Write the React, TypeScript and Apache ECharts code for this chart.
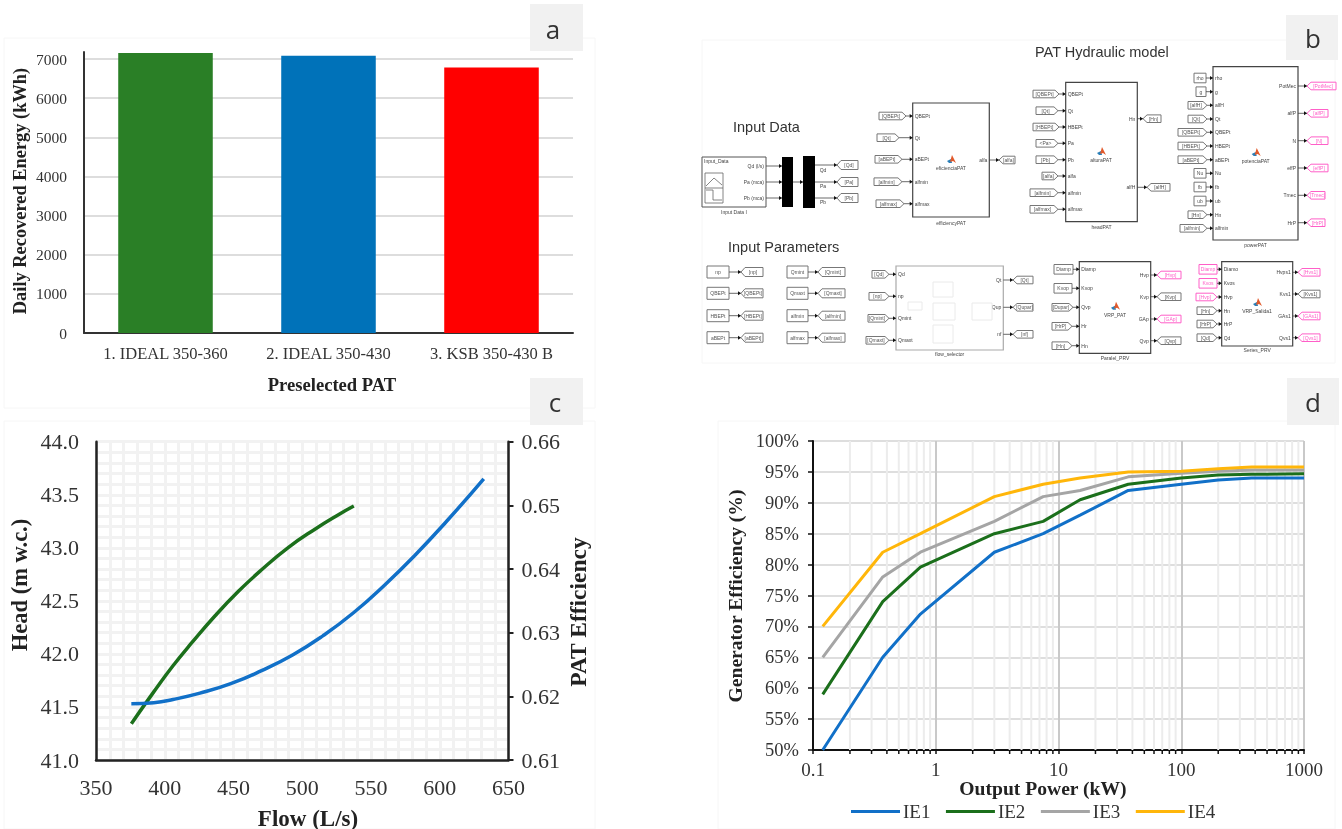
import React, { useEffect, useRef } from "react";
import * as echarts from "echarts";

// ---------- panel a ----------
const patNames = ["1. IDEAL 350-360", "2. IDEAL 350-430", "3. KSB 350-430 B"];
const patEnergy = [7155, 7085, 6785];
const patColors = ["#2A7F26", "#0072B9", "#FF0000"];

// ---------- panel c ----------
const headFlow = [375.7, 392, 406, 425.6, 448, 470, 493, 515, 537.5, 560, 582, 605, 632];
const headValue = [41.53, 41.54, 41.57, 41.63, 41.72, 41.84, 41.99, 42.17, 42.39, 42.65, 42.93, 43.25, 43.65];
const effFlow = [375.7, 392, 406, 420, 436.8, 453.6, 470, 490, 509.5, 526, 537.5];
const effValue = [0.6157, 0.6207, 0.6248, 0.6285, 0.6327, 0.6365, 0.6398, 0.6434, 0.6463, 0.6485, 0.6499];

// ---------- panel d ----------
const powerKw = [0.12, 0.37, 0.75, 3, 7.5, 15, 37, 100, 200, 375, 1000];
const ie1 = [50, 65, 72, 82, 85, 88, 92, 93, 93.7, 94, 94];
const ie2 = [59, 74, 79.6, 85, 87, 90.5, 93, 94, 94.5, 94.6, 94.7];
const ie3 = [65, 78, 82, 87, 91, 92, 94.2, 94.8, 95.1, 95.3, 95.3];
const ie4 = [70, 82, 85, 91, 93, 94, 95, 95.1, 95.5, 95.8, 95.8];
const minorKw = [
  0.2, 0.3, 0.4, 0.5, 0.6, 0.7, 0.8, 0.9, 2, 3, 4, 5, 6, 7, 8, 9, 20, 30, 40, 50, 60, 70, 80, 90,
  200, 300, 400, 500, 600, 700, 800, 900,
];

const SERIF = "'Liberation Serif', serif";
const SANS = "'Liberation Sans', sans-serif";
const PINK = "#ff5fc8";
const GREY = "#777777";
const DARK = "#3a3a3a";

const els: any[] = [];
const lineEl = (x1: number, y1: number, x2: number, y2: number, stroke = "#333", lineWidth = 1) =>
  els.push({ type: "line", shape: { x1, y1, x2, y2 }, style: { stroke, lineWidth } });
const textEl = (x: number, y: number, text: string, font: string, fill = DARK, align = "center", rotation = 0) =>
  els.push({
    type: "text",
    x,
    y,
    rotation,
    style: { text, font, fill, textAlign: align, textVerticalAlign: "middle" },
  });
const rectEl = (x: number, y: number, w: number, h: number, fill: string, stroke = "none", lineWidth = 1) =>
  els.push({ type: "rect", shape: { x, y, width: w, height: h }, style: { fill, stroke, lineWidth } });
const polyEl = (points: number[][], fill: string, stroke = "none", lineWidth = 1) =>
  els.push({ type: "polygon", shape: { points }, style: { fill, stroke, lineWidth } });
const tiny = `5px ${SANS}`;
const arrowHead = (x: number, y: number) =>
  polyEl([[x - 3, y - 2], [x, y], [x - 3, y + 2]], "#111");

// input tag: [port label, tag label, left, right, kind, pink]
type Port = [string, string, number, number, "from" | "const", boolean?];

const drawIn = (blockX: number, y: number, p: Port) => {
  const [port, label, l, r, kind, pink] = p;
  const c = pink ? PINK : GREY;
  const h = 3.8;
  if (kind === "const") {
    rectEl(l, y - h - 1, r - l, 2 * h + 2, "#fff", c, 1);
  } else {
    polyEl([[l, y - h], [r - 4, y - h], [r, y], [r - 4, y + h], [l, y + h]], "#fff", c, 1);
  }
  textEl(kind === "const" ? (l + r) / 2 : (l + r - 3) / 2, y, label, tiny, pink ? PINK : "#555");
  lineEl(r, y, blockX, y, "#444", 0.8);
  arrowHead(blockX, y);
  textEl(blockX + 2, y, port, tiny, "#444", "left");
};
const drawOut = (blockX: number, y: number, port: string, label: string, l: number, r: number, pink?: boolean) => {
  const c = pink ? PINK : GREY;
  const h = 3.8;
  polyEl([[l, y], [l + 4, y - h], [r, y - h], [r, y + h], [l + 4, y + h]], "#fff", c, 1);
  textEl((l + r + 3) / 2, y, label, tiny, pink ? PINK : "#555");
  lineEl(blockX, y, l, y, "#444", 0.8);
  arrowHead(l, y);
  textEl(blockX - 2, y, port, tiny, "#444", "right");
};
const matlabIcon = (cx: number, cy: number) => {
  polyEl([[cx - 4, cy + 1], [cx, cy - 1], [cx + 1, cy + 3], [cx - 2, cy + 3]], "#2a7fb8");
  polyEl([[cx - 1, cy + 2], [cx + 1, cy - 5], [cx + 5, cy + 3], [cx + 2, cy + 1]], "#e2592a");
};
const drawBlock = (
  x0: number, y0: number, x1: number, y1: number, name: string, nameY: number,
  inner: string | null, icx: number, icy: number,
  inY: number[], inputs: Port[],
  outY: number[], outs: [string, string, number, number, boolean?][],
  stroke = "#444",
) => {
  rectEl(x0, y0, x1 - x0, y1 - y0, "#fff", stroke, 1.2);
  inputs.forEach((p, i) => drawIn(x0, inY[i], p));
  outs.forEach((o, i) => drawOut(x1, outY[i], o[0], o[1], o[2], o[3], o[4]));
  textEl((x0 + x1) / 2, nameY, name, tiny, "#444");
  if (inner) {
    matlabIcon(icx, icy);
    textEl(icx, icy + 8, inner, tiny, "#444");
  }
};

// faint panel frames
rectEl(4, 38, 591, 370, "none", "#f6f6f6", 1);
rectEl(702, 40, 633, 323, "none", "#f6f6f6", 1);
rectEl(4, 421, 591, 408, "none", "#f6f6f6", 1);
rectEl(718, 421, 617, 408, "none", "#f6f6f6", 1);
// corner tags
rectEl(530, 4, 53, 47, "#f1f1f1");
rectEl(1286, 15, 52, 45, "#f1f1f1");
rectEl(530, 378, 53, 47, "#f1f1f1");
rectEl(1287, 378, 52, 47, "#f1f1f1");
([["a", 553, 29], ["b", 1313, 38], ["c", 555, 402], ["d", 1313, 402]] as any[]).forEach(([t, x, y]) =>
  textEl(x, y, t, `26px 'Open Sans', sans-serif`, "#333"),
);

// axis titles
const R = Math.PI / 2;
textEl(20, 191, "Daily Recovered Energy (kWh)", `bold 18.4px ${SERIF}`, "#222", "center", R);
textEl(332, 384, "Preselected PAT", `bold 18.6px ${SERIF}`, "#222");
textEl(19, 585, "Head (m w.c.)", `bold 22.5px ${SERIF}`, "#222", "center", R);
textEl(578, 612, "PAT Efficiency", `bold 23.5px ${SERIF}`, "#222", "center", R);
textEl(308, 818, "Flow (L/s)", `bold 23px ${SERIF}`, "#222");
textEl(735, 596, "Generator Efficiency (%)", `bold 19.6px ${SERIF}`, "#222", "center", R);
textEl(1043, 788, "Output Power (kW)", `bold 19.6px ${SERIF}`, "#222");

// diagram titles
textEl(733, 127, "Input Data", `14.5px ${SANS}`, "#333", "left");
textEl(728, 247, "Input Parameters", `14.5px ${SANS}`, "#333", "left");
textEl(1035, 52, "PAT Hydraulic model", `14.5px ${SANS}`, "#333", "left");

// input data source and buses
rectEl(702, 157, 64, 50, "#fff", "#555", 1);
textEl(704, 161, "Input_Data", tiny, "#444", "left");
rectEl(705, 173, 18, 30, "#fff", "#666", 0.8);
els.push({ type: "polyline", shape: { points: [[706, 186], [714, 178], [722, 185]] }, style: { stroke: "#666", lineWidth: 0.8, fill: "none" } });
els.push({ type: "polyline", shape: { points: [[706, 190], [713, 190], [713, 200], [722, 200]] }, style: { stroke: "#666", lineWidth: 0.8, fill: "none" } });
lineEl(705, 188, 723, 188, "#666", 0.8);
textEl(734, 212, "Input Data I", tiny, "#444");
rectEl(782, 157, 11, 50, "#000");
rectEl(803, 156, 12, 52, "#000");
lineEl(793, 182, 803, 182, "#444", 0.8);
arrowHead(803, 182);
[["Qd (l/s)", 166], ["Pa (mca)", 182], ["Pb (mca)", 198]].forEach(([t, y]: any) => {
  textEl(764, y, t, tiny, "#444", "right");
  lineEl(766, y, 782, y, "#444", 0.8);
  arrowHead(782, y);
});
[["Qd", "[Qd]", 165, 170], ["Pa", "[Pa]", 182, 186], ["Pb", "[Pb]", 198, 202]].forEach(([p, t, y, ly]: any) => {
  lineEl(815, y, 837, y, "#444", 0.8);
  arrowHead(837, y);
  textEl(823, ly, p, tiny, "#444");
  polyEl([[837, y], [841, y - 4.5], [858, y - 4.5], [858, y + 4.5], [841, y + 4.5]], "#fff", GREY, 1);
  textEl(849, y, t, tiny, "#555");
});

// efficiencyPAT
drawBlock(912.7, 103, 989.3, 217, "efficiencyPAT", 223, "eficienciaPAT", 951, 160,
  [116, 137.7, 159.3, 181.7, 203.7],
  [
    ["QBEPt", "[QBEPt]", 879, 906, "from"],
    ["Qt", "[Qt]", 877, 899, "from"],
    ["aBEPt", "[aBEPt]", 875, 902, "from"],
    ["alfmin", "[alfmin]", 874, 902, "from"],
    ["alfmax", "[alfmax]", 876, 904, "from"],
  ],
  [160], [["alfa", "[alfa]", 999, 1015]]);

// headPAT
drawBlock(1065.7, 82.3, 1137.3, 221.7, "headPAT", 226.7, "alturaPAT", 1101, 152,
  [94, 110.7, 127, 143.3, 159.7, 176, 192.7, 209.3],
  [
    ["QBEPt", "[QBEPt]", 1033, 1059, "from"],
    ["Qt", "[Qt]", 1036, 1058, "from"],
    ["HBEPt", "[HBEPt]", 1033, 1059, "from"],
    ["Pa", "<Pa>", 1036, 1058, "from"],
    ["Pb", "[Pb]", 1036, 1058, "from"],
    ["alfa", "[alfa]", 1042, 1058, "from"],
    ["alfmin", "[alfmin]", 1030, 1058, "from"],
    ["alfmax", "[alfmax]", 1030, 1058, "from"],
  ],
  [118.7, 187.3], [["Hn", "[Hn]", 1143, 1161], ["alfH", "[alfH]", 1147, 1170]]);

// powerPAT
drawBlock(1213, 66.7, 1298, 240, "powerPAT", 245, "potenciaPAT", 1255.7, 153,
  [78, 91.7, 105.3, 119, 132.3, 146, 159.7, 173.3, 187, 201, 214.7, 228.3],
  [
    ["rho", "rho", 1194, 1206, "const"],
    ["g", "g", 1196, 1206, "const"],
    ["alfH", "[alfH]", 1188, 1207, "from"],
    ["Qt", "[Qt]", 1188, 1207, "from"],
    ["QBEPt", "[QBEPt]", 1178, 1207, "from"],
    ["HBEPt", "[HBEPt]", 1178, 1207, "from"],
    ["aBEPt", "[aBEPt]", 1178, 1207, "from"],
    ["Nu", "Nu", 1194, 1206, "const"],
    ["fb", "fb", 1194, 1206, "const"],
    ["ub", "ub", 1194, 1206, "const"],
    ["Hn", "[Hn]", 1188, 1207, "from"],
    ["alfmin", "[alfmin]", 1180, 1207, "from"],
  ],
  [86, 113.3, 140.7, 168, 195.3, 222.7],
  [
    ["PotMec", "[PotMec]", 1307, 1336, true],
    ["alfP", "[alfP]", 1307, 1328, true],
    ["N", "[N]", 1307, 1328, true],
    ["effP", "[effP]", 1307, 1328, true],
    ["Tmec", "[Tmec]", 1307, 1325, true],
    ["HrP", "[HrP]", 1307, 1325, true],
  ]);

// constants
const rowY = [272, 293.3, 315.7, 337.7];
["np", "QBEPt", "HBEPt", "aBEPt"].forEach((t, i) => {
  const y = rowY[i];
  rectEl(707, y - 6, 22, 12, "#fff", GREY, 1);
  textEl(718, y, t, tiny, "#555");
  lineEl(729, y, 741, y, "#444", 0.8);
  arrowHead(741, y);
  polyEl([[741, y], [745, y - 4.5], [763, y - 4.5], [763, y + 4.5], [745, y + 4.5]], "#fff", GREY, 1);
  textEl(753, y, `[${t}]`, tiny, "#555");
});
["Qmint", "Qmaxt", "alfmin", "alfmax"].forEach((t, i) => {
  const y = rowY[i];
  rectEl(787, y - 6, 21, 12, "#fff", GREY, 1);
  textEl(797.5, y, t, tiny, "#555");
  lineEl(808, y, 818, y, "#444", 0.8);
  arrowHead(818, y);
  polyEl([[818, y], [822, y - 4.5], [845, y - 4.5], [845, y + 4.5], [822, y + 4.5]], "#fff", GREY, 1);
  textEl(833, y, `[${t}]`, tiny, "#555");
});

// flow selector
drawBlock(896, 266, 1003.3, 350, "flow_selector", 354, null, 0, 0,
  [274.3, 296.3, 318.3, 340.3],
  [
    ["Qd", "[Qd]", 872, 889, "from"],
    ["np", "[np]", 869, 889, "from"],
    ["Qmint", "[Qmint]", 868, 889, "from"],
    ["Qmaxt", "[Qmaxt]", 866, 889, "from"],
  ],
  [280, 307.3, 334.3],
  [["Qt", "[Qt]", 1013, 1033], ["Qup", "[Qupar]", 1013, 1033], ["nf", "[nf]", 1013, 1033]],
  "#aaaaaa");
[[933, 282, 20, 15], [933, 303, 22, 17], [933, 325, 20, 18], [908, 302, 14, 8], [972, 303, 20, 17]].forEach(([x, y, w, h]) =>
  rectEl(x, y, w, h, "#fff", "#eaeaea", 1),
);

// Paralel_PRV
drawBlock(1079.3, 261.7, 1150.7, 353.3, "Paralel_PRV", 358, "VRP_PAT", 1115, 306.7,
  [269.3, 288.3, 307.3, 326.3, 345.7],
  [
    ["Diamp", "Diamp", 1054, 1073, "const"],
    ["Kvop", "Kvop", 1054, 1072, "const"],
    ["Qvp", "[Dupar]", 1052, 1073, "from"],
    ["Hr", "[HrP]", 1052, 1072, "from"],
    ["Hn", "[Hn]", 1052, 1072, "from"],
  ],
  [275, 296.7, 319, 340.7],
  [
    ["Hvp", "[Hvp]", 1157, 1181, true],
    ["Kvp", "[Kvp]", 1157, 1181],
    ["GAp", "[GAp]", 1157, 1181, true],
    ["Qvp", "[Qvp]", 1157, 1181],
  ]);

// Series_PRV
drawBlock(1221.7, 261.7, 1292.7, 346, "Series_PRV", 350, "VRP_Salida1", 1257, 303,
  [269.3, 283.3, 297, 310.7, 324, 337.7],
  [
    ["Diamo", "Diamp", 1199, 1217, "const", true],
    ["Kvos", "Kvos", 1199, 1217, "const", true],
    ["Hvp", "[Hvp]", 1196, 1217, "from", true],
    ["Hn", "[Hn]", 1197, 1217, "from"],
    ["HrP", "[HrP]", 1197, 1217, "from"],
    ["Qd", "[Qd]", 1197, 1217, "from"],
  ],
  [272.3, 294, 316, 337.7],
  [
    ["Hvps1", "[Hvs1]", 1298, 1320, true],
    ["Kvs1", "[Kvs1]", 1298, 1320],
    ["GAs1", "[GAs1]", 1298, 1320, true],
    ["Qvs1", "[Qvs1]", 1298, 1320, true],
  ]);

const zip = (a: number[], b: number[]) => a.map((v, i) => [v, b[i]]);
const tickLabel = (size: number, margin: number, extra: any = {}) => ({
  fontFamily: SERIF,
  fontSize: size,
  color: "#333",
  margin,
  ...extra,
});
const ieSeries = (name: string, values: number[], color: string) => ({
  name,
  type: "line",
  xAxisIndex: 2,
  yAxisIndex: 3,
  data: zip(powerKw, values),
  symbol: "none",
  lineStyle: { color, width: 3 },
  itemStyle: { color },
  z: 5,
});

const option: any = {
  animation: false,
  backgroundColor: "#fff",
  legend: {
    data: ["IE1", "IE2", "IE3", "IE4"],
    left: 846,
    top: 797,
    itemWidth: 49,
    itemHeight: 3,
    itemGap: 15.5,
    icon: "rect",
    textStyle: { fontFamily: SERIF, fontSize: 19, color: "#333", padding: [0, 0, 0, -2] },
  },
  grid: [
    { left: 84, width: 489, top: 52, height: 281 },
    { left: 96, width: 412.5, top: 441.7, height: 318.3 },
    { left: 813, width: 491, top: 441, height: 309 },
  ],
  xAxis: [
    {
      type: "category",
      gridIndex: 0,
      data: patNames,
      axisLine: { lineStyle: { color: "#333", width: 2 } },
      axisTick: { show: false },
      axisLabel: tickLabel(16.5, 12),
    },
    {
      type: "value",
      gridIndex: 1,
      min: 350,
      max: 650,
      interval: 50,
      axisLine: { lineStyle: { color: "#222", width: 2.5 } },
      axisTick: { show: false },
      axisLabel: tickLabel(22, 16),
      splitLine: { show: true, lineStyle: { color: "#f2f2f2", width: 3 } },
      minorTick: { show: false, splitNumber: 5 },
      minorSplitLine: { show: true, lineStyle: { color: "#f2f2f2", width: 3 } },
    },
    {
      type: "log",
      gridIndex: 2,
      logBase: 10,
      min: 0.1,
      max: 1000,
      axisLine: { onZero: false, lineStyle: { color: "#111", width: 2 } },
      axisTick: { show: true, length: 4, lineStyle: { color: "#111", width: 1.5 } },
      axisLabel: tickLabel(19, 10, { formatter: (v: number) => String(v) }),
      splitLine: { show: true, lineStyle: { color: "#c9c9c9", width: 2 } },
      minorTick: { show: false },
      minorSplitLine: { show: false },
    },
  ],
  yAxis: [
    {
      type: "value",
      gridIndex: 0,
      min: 0,
      max: 7180,
      interval: 1000,
      axisLine: { show: true, lineStyle: { color: "#333", width: 2 } },
      axisTick: { show: false },
      axisLabel: tickLabel(15.5, 17, { showMaxLabel: false, formatter: (v: number) => String(v) }),
      splitLine: { show: true, showMaxLine: false, lineStyle: { color: "#dddddd", width: 2 } },
    },
    {
      type: "value",
      gridIndex: 1,
      min: 41,
      max: 44,
      interval: 0.5,
      axisLine: { show: true, lineStyle: { color: "#222", width: 2.5 } },
      axisTick: { show: false },
      axisLabel: tickLabel(22, 17, { formatter: (v: number) => v.toFixed(1) }),
      splitLine: { show: true, lineStyle: { color: "#f2f2f2", width: 3 } },
      minorTick: { show: false, splitNumber: 5 },
      minorSplitLine: { show: true, lineStyle: { color: "#f2f2f2", width: 3 } },
    },
    {
      type: "value",
      gridIndex: 1,
      position: "right",
      min: 0.61,
      max: 0.66,
      interval: 0.01,
      axisLine: { show: true, lineStyle: { color: "#222", width: 2.5 } },
      axisTick: { show: true, length: 5, lineStyle: { color: "#222", width: 2 } },
      axisLabel: tickLabel(22, 13, { formatter: (v: number) => v.toFixed(2) }),
      splitLine: { show: false },
    },
    {
      type: "value",
      gridIndex: 2,
      min: 50,
      max: 100,
      interval: 5,
      axisLine: { show: true, lineStyle: { color: "#111", width: 2 } },
      axisTick: { show: true, length: 5, lineStyle: { color: "#111", width: 1.5 } },
      axisLabel: tickLabel(18.5, 14, { formatter: (v: number) => `${v}%` }),
      splitLine: { show: true, lineStyle: { color: "#dedede", width: 2 } },
    },
  ],
  series: [
    {
      type: "bar",
      xAxisIndex: 0,
      yAxisIndex: 0,
      barWidth: "58%",
      data: patEnergy.map((value, i) => ({ value, itemStyle: { color: patColors[i] } })),
      z: 3,
    },
    {
      name: "Head",
      type: "line",
      xAxisIndex: 1,
      yAxisIndex: 1,
      data: zip(headFlow, headValue),
      smooth: true,
      symbol: "none",
      lineStyle: { color: "#1170C8", width: 3.5 },
      z: 5,
    },
    {
      name: "Efficiency",
      type: "line",
      xAxisIndex: 1,
      yAxisIndex: 2,
      data: zip(effFlow, effValue),
      smooth: true,
      symbol: "none",
      lineStyle: { color: "#1B6F1B", width: 3.5 },
      z: 4,
    },
    {
      type: "custom",
      xAxisIndex: 2,
      yAxisIndex: 3,
      clip: false,
      silent: true,
      z: 1,
      data: minorKw.map((v) => [v, 50]),
      encode: { x: 0, y: 1 },
      renderItem: (_p: any, api: any) => {
        const a = api.coord([api.value(0), 50]);
        const b = api.coord([api.value(0), 100]);
        return {
          type: "group",
          children: [
            { type: "line", shape: { x1: a[0], y1: a[1], x2: b[0], y2: b[1] }, style: { stroke: "#ececec", lineWidth: 2 } },
            { type: "line", shape: { x1: a[0], y1: a[1], x2: a[0], y2: a[1] + 4 }, style: { stroke: "#111", lineWidth: 1.5 } },
          ],
        };
      },
    },
    ieSeries("IE1", ie1, "#1170C8"),
    ieSeries("IE2", ie2, "#1B6F1B"),
    ieSeries("IE3", ie3, "#A5A5A5"),
    ieSeries("IE4", ie4, "#FFB60A"),
  ],
  graphic: { elements: els },
};

export default function App() {
  const ref = useRef<HTMLDivElement>(null);
  useEffect(() => {
    document.body.style.margin = "0";
    document.body.style.overflow = "hidden";
    const chart = echarts.init(ref.current!, undefined, { renderer: "svg", width: 1342, height: 829 });
    chart.setOption(option);
    return () => chart.dispose();
  }, []);
  return (
    <div
      ref={ref}
      style={{ position: "fixed", left: 0, top: 0, width: 1342, height: 829, background: "#fff", filter: "blur(0.5px)" }}
    />
  );
}
